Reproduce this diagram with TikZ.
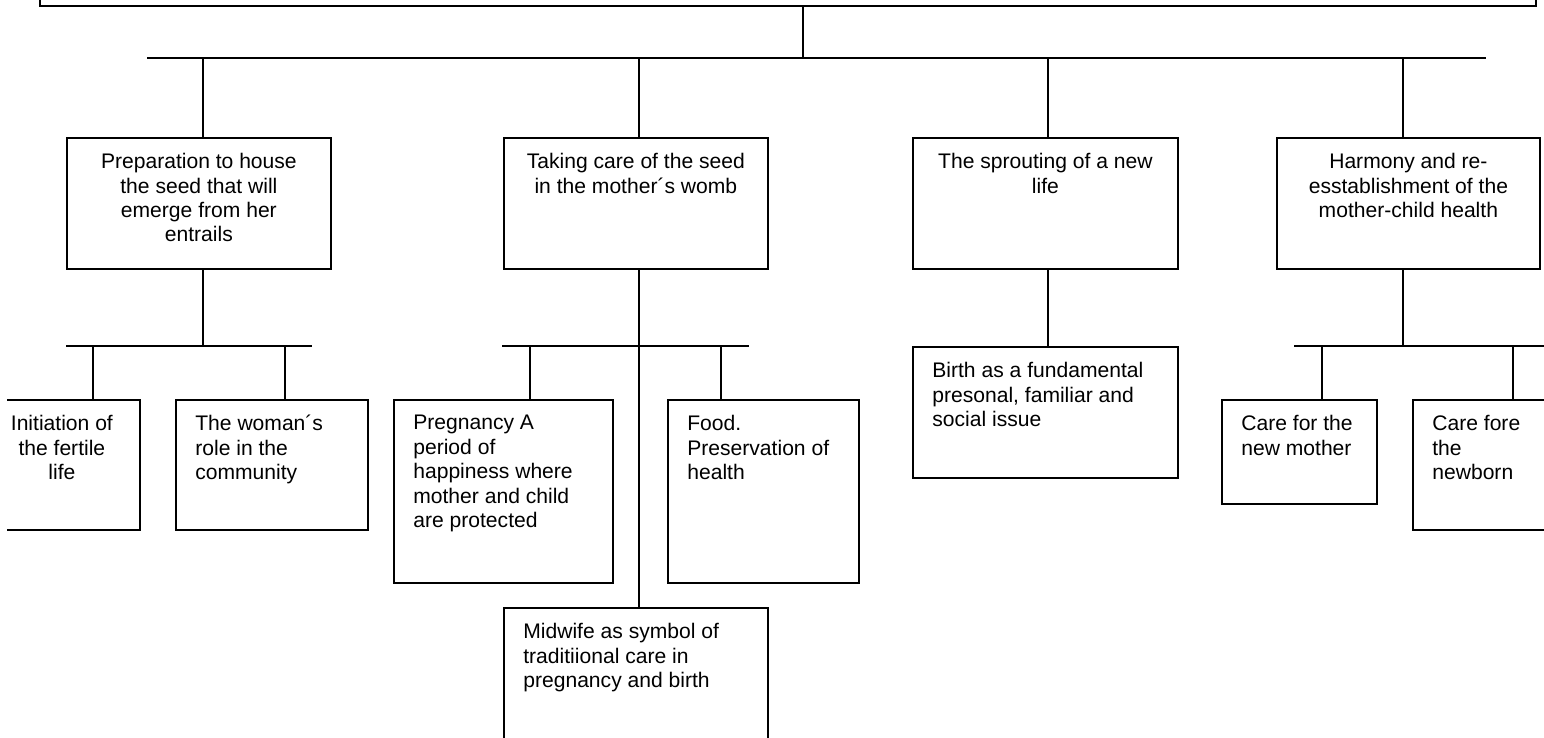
\documentclass[tikz,border=0pt]{standalone}
\usepackage{fontspec}
\setmainfont{Liberation Sans}
\usetikzlibrary{positioning}
\newcommand{\px}{0.02cm}

\begin{document}
\begin{tikzpicture}[x=\px, y=-\px,
        box/.style={draw, line width=1pt, inner sep=0pt, anchor=north west},
        txtc/.style={inner sep=0pt, align=center, font=\fontsize{12}{13.9}\selectfont},
        txtl/.style={inner sep=0pt, align=left, font=\fontsize{12}{13.9}\selectfont},
        link/.style={line width=1pt}]
            \useasboundingbox (0,0) rectangle (1544,737);
            \begin{scope}
            \clip (7,-20) rectangle (1544,760);

            \node[box, anchor=south west, minimum width=1496*\px, minimum height=40*\px] (top) at (39,7) {};

            \node[box, minimum width=264*\px, minimum height=131*\px] (prep) at (66,137) {};
            \node[box, minimum width=264*\px, minimum height=131*\px] (seed) at (503,137) {};
            \node[box, minimum width=265*\px, minimum height=131*\px] (sprout) at (912,137) {};
            \node[box, minimum width=263*\px, minimum height=131*\px] (harm) at (1276,137) {};

            \node[txtc, below=0.32cm of prep.north] (preptxt) {Preparation to house\\the seed that will\\emerge from her\\entrails};
            \node[txtc, below=0.32cm of seed.north] (seedtxt) {Taking care of the seed\\in the mother´s womb};
            \node[txtc, below=0.32cm of sprout.north] (sprouttxt) {The sprouting of a new\\life};
            \node[txtc, below=0.32cm of harm.north] (harmtxt) {Harmony and re-\\esstablishment of the\\mother-child health};

            \node[box, minimum width=156*\px, minimum height=130*\px] (init) at (-17,399) {};
            \node[box, minimum width=192*\px, minimum height=130*\px] (role) at (175,399) {};
            \node[box, minimum width=219*\px, minimum height=183*\px] (preg) at (393,399) {};
            \node[box, minimum width=191*\px, minimum height=183*\px] (food) at (667,399) {};
            \node[box, minimum width=264*\px, minimum height=160*\px] (midw) at (503,607) {};
            \node[box, minimum width=265*\px, minimum height=131*\px] (birth) at (912,346) {};
            \node[box, minimum width=155*\px, minimum height=104*\px] (cmom) at (1221,399) {};
            \node[box, minimum width=160*\px, minimum height=130*\px] (cnew) at (1412,399) {};

            \node[txtc, below=0.32cm of init.north] (inittxt) {Initiation of\\the fertile\\life};
            \node[txtl, below right=0.32cm and 0.4cm of role.north west] (roletxt) {The woman´s\\role in the\\community};
            \node[txtl, below right=0.32cm and 0.4cm of preg.north west] (pregtxt) {Pregnancy A\\period of\\happiness where\\mother and child\\are protected};
            \node[txtl, below right=0.32cm and 0.4cm of food.north west] (foodtxt) {Food.\\Preservation of\\health};
            \node[txtl, below right=0.32cm and 0.4cm of midw.north west] (midwtxt) {Midwife as symbol of\\traditiional care in\\pregnancy and birth};
            \node[txtl, below right=0.32cm and 0.4cm of birth.north west] (birthtxt) {Birth as a fundamental\\presonal, familiar and\\social issue};
            \node[txtl, below right=0.32cm and 0.4cm of cmom.north west] (cmomtxt) {Care for the\\new mother};
            \node[txtl, below right=0.32cm and 0.4cm of cnew.north west] (cnewtxt) {Care fore\\the\\newborn};

            \coordinate (hub) at (803,58);
            \draw[link] (hub |- top.south) -- (hub);
            \coordinate (busl) at (147,58);
            \coordinate (busr) at (1486,58);
            \draw[link] (busl) -- (busr);
            \foreach \n/\x in {prep/203, seed/639, sprout/1048, harm/1403} {
                \coordinate (k\n) at (\x,58);
                \draw[link] (k\n) -- (k\n |- \n.north);
            }

            \coordinate (prepj) at (203,346);
            \draw[link] (prepj |- prep.south) -- (prepj);
            \draw[link] (66,346) -- (312,346);
            \coordinate (seedj) at (639,346);
            \draw[link] (seedj |- seed.south) -- (seedj |- midw.north);
            \draw[link] (502,346) -- (749,346);
            \coordinate (sproutj) at (1048,346);
            \draw[link] (sproutj |- sprout.south) -- (sproutj |- birth.north);
            \coordinate (harmj) at (1403,346);
            \draw[link] (harmj |- harm.south) -- (harmj);
            \draw[link] (1294,346) -- (1550,346);

            \foreach \n/\x in {init/93, role/285, preg/530, food/721, cmom/1322, cnew/1513} {
                \coordinate (k\n) at (\x,346);
                \draw[link] (k\n) -- (k\n |- \n.north);
            }
            \end{scope}
        \end{tikzpicture}
\end{document}
